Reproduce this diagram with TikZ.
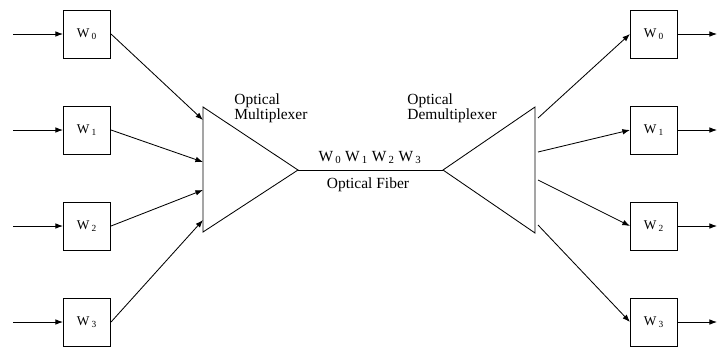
\documentclass[tikz,border=0pt]{standalone}
\usepackage{fontspec}
\setmainfont{Liberation Serif}
\usepackage{tikz}
\usetikzlibrary{arrows.meta}

\begin{document}
\begin{tikzpicture}[x=0.025cm, y=-0.025cm, line width=0.6pt,
    wbox/.style={draw, minimum width=1.18cm, minimum height=1.2cm, inner sep=0pt, font=\fontsize{9.5}{10}\selectfont},
    sig/.style={-{Latex[length=1.9mm, width=1.4mm]}},
    lbl/.style={align=left, inner sep=0pt, font=\fontsize{11}{11}\selectfont}]
    \useasboundingbox (0,0) rectangle (720,351);

    % Wavelength boxes W0..W3 on both sides, with their input and output lines
    \foreach \i/\y in {0/34, 1/130, 2/226, 3/322} {
        \node[wbox] (in\i)  at (87,\y)  {W\kern1.5pt\textsubscript{\i}};
        \node[wbox] (out\i) at (654,\y) {W\kern1.5pt\textsubscript{\i}};
        \coordinate (src\i) at (13,\y);
        \coordinate (snk\i) at (717,\y);
        \draw[sig] (src\i) -- (in\i);
        \draw[sig] (out\i) -- (snk\i);
    }

    % Multiplexer and demultiplexer triangles
    \coordinate (mA) at (203,107); \coordinate (mB) at (203,232); \coordinate (mC) at (298,170);
    \coordinate (dA) at (535,107); \coordinate (dB) at (535,233); \coordinate (dC) at (443,170);
    \draw (mA) -- (mC) -- (mB) -- cycle;
    \draw (dA) -- (dC) -- (dB) -- cycle;

    % Optical fiber between the two
    \draw (mC) -- (dC);

    % Entry points on the multiplexer, exit points on the demultiplexer
    \foreach \i/\y in {0/120, 1/162, 2/190, 3/220}
        \coordinate (mi\i) at (203,\y);
    \foreach \i/\y in {0/118, 1/152, 2/180, 3/225}
        \coordinate (do\i) at (538,\y);

    \foreach \i in {0,1,2,3} {
        \draw[sig] (in\i.east) -- (mi\i);
        \draw[sig] (do\i) -- (out\i.west);
    }

    % Labels
    \node[lbl, anchor=north west] (mux) at (234,93) {Optical\\Multiplexer};
    \node[lbl, anchor=north west] (demux) at (407,93) {Optical\\Demultiplexer};
    \node[lbl, anchor=south] (waves) at (370,164)
        {W\kern1.5pt\textsubscript{0} W\kern1.5pt\textsubscript{1} W\kern1.5pt\textsubscript{2} W\kern1.5pt\textsubscript{3}};
    \node[lbl, anchor=north] (fiber) at (368,177) {Optical Fiber};
\end{tikzpicture}
\end{document}
